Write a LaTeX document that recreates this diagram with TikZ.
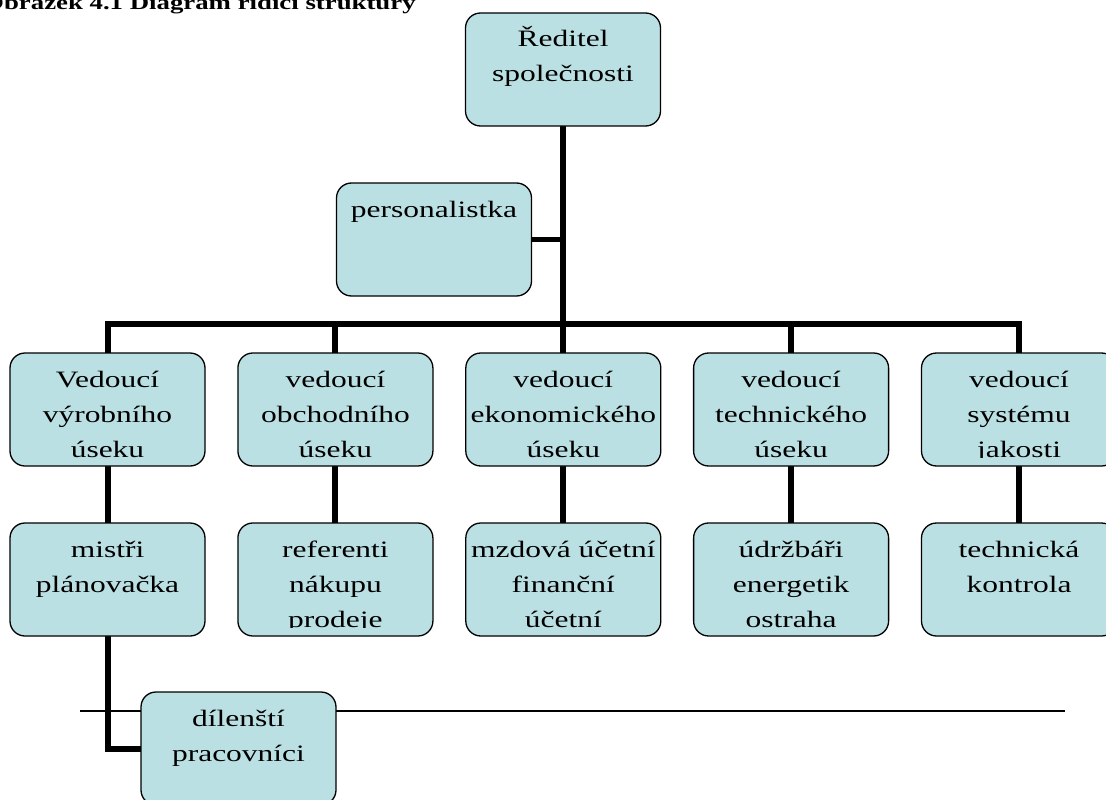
\documentclass[tikz,border=0pt]{standalone}
\usepackage{fontspec}
\setmainfont{Liberation Serif}[FakeStretch=1.34]
\usetikzlibrary{backgrounds}
\definecolor{boxfill}{RGB}{187,224,227}
\tikzset{
  orgbox/.style={draw=black, line width=1.3pt, fill=boxfill, rounded corners=15pt,
    minimum width=195pt, minimum height=113pt, inner sep=0pt, outer sep=0pt, anchor=north,
    path picture={
      \clip ([yshift=9pt]path picture bounding box.south west) rectangle (path picture bounding box.north east);
      \node[anchor=north, inner sep=0pt, draw=none, fill=none, minimum width=0pt, minimum height=0pt,
            align=center, text width=195pt,
            font=\fontsize{23.5}{35}\selectfont] at (path picture bounding box.north) {\rule{0pt}{34pt}#1};}},
  trunk/.style={line width=6pt, draw=black},
  sidelink/.style={line width=4.5pt, draw=black},
  sepline/.style={line width=1.5pt, draw=black}
}
\begin{document}
\begin{tikzpicture}[x=1pt,y=-1pt]
\useasboundingbox (0,0) rectangle (1106,800);
\node[anchor=base west, inner sep=0pt, font=\bfseries\fontsize{20}{24}\selectfont] (title) at (-17,9.5) {Obrázek 4.1 Diagram řídicí struktury};

\node[orgbox={Ředitel\\společnosti}] (dir) at (563,13) {};
\node[orgbox={personalistka}] (pers) at (434,183) {};

\node[orgbox={Vedoucí\\výrobního\\úseku}] (v1) at (107.5,353) {};
\node[orgbox={vedoucí\\obchodního\\úseku}] (v2) at (335.4,353) {};
\node[orgbox={vedoucí\\ekonomického\\úseku}] (v3) at (563.3,353) {};
\node[orgbox={vedoucí\\technického\\úseku}] (v4) at (791.1,353) {};
\node[orgbox={vedoucí\\systému\\jakosti}] (v5) at (1019,353) {};

\node[orgbox={mistři\\plánovačka}] (w1) at (107.5,523) {};
\node[orgbox={referenti\\nákupu\\prodeje}] (w2) at (335.4,523) {};
\node[orgbox={mzdová účetní\\finanční\\účetní}] (w3) at (563.3,523) {};
\node[orgbox={údržbáři\\energetik\\ostraha}] (w4) at (791.1,523) {};
\node[orgbox={technická\\kontrola}] (w5) at (1019,523) {};

\node[orgbox={dílenští\\pracovníci}] (dil) at (238.5,692) {};

\coordinate (bus) at (563,324);
\coordinate (sepL) at (80,711);
\coordinate (sepR) at (1065,711);

\begin{pgfonlayer}{background}
  \draw[sepline] (sepL) -- (sepR);
  \draw[trunk] (dir.south) -- (dir.south |- bus);
  \draw[sidelink] (pers.east) -- (pers.east -| dir.south);
  \draw[trunk] (v1.north) |- (v5.north |- bus) -- (v5.north);
  \draw[trunk] (v2.north) -- (v2.north |- bus);
  \draw[trunk] (v3.north) -- (v3.north |- bus);
  \draw[trunk] (v4.north) -- (v4.north |- bus);
  \draw[trunk] (v1.south) -- (w1.north);
  \draw[trunk] (v2.south) -- (w2.north);
  \draw[trunk] (v3.south) -- (w3.north);
  \draw[trunk] (v4.south) -- (w4.north);
  \draw[trunk] (v5.south) -- (w5.north);
  \draw[trunk] (w1.south) |- (dil.west);
\end{pgfonlayer}
\end{tikzpicture}
\end{document}
